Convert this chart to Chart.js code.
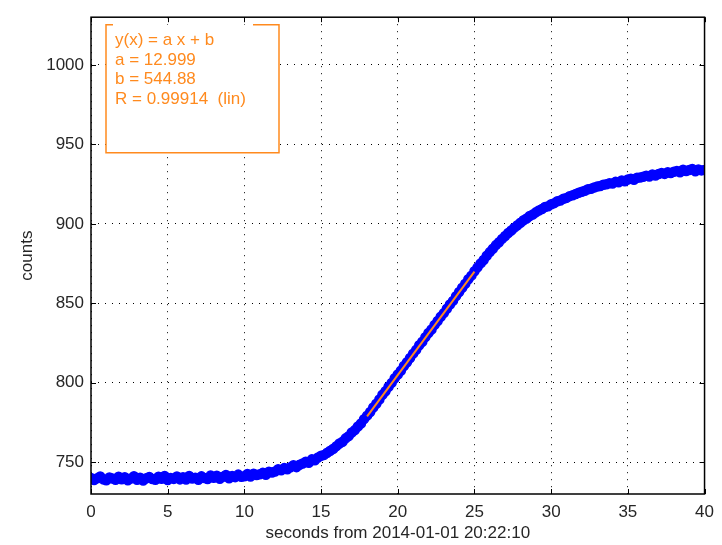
<!DOCTYPE html>
<html>
<head>
<meta charset="utf-8">
<script src="https://cdn.jsdelivr.net/npm/chart.js@4"></script>
<style>
  html, body { margin: 0; padding: 0; background: #fff; }
  #wrap { width: 722px; height: 545px; }
</style>
</head>
<body>
<div id="wrap"><canvas id="chart" width="722" height="545"></canvas></div>
<script>
// sampling grid: one reading every 0.2 s from t = 0
const t0 = 0;
const dt = 0.2;

// counts, ten samples (2 s) per row
const counts = [
    740.1, 738.8, 739.9, 741.0, 739.2, 738.6, 740.4, 739.7, 738.9, 740.8,
    739.3, 740.6, 738.7, 739.8, 741.2, 739.0, 740.2, 738.5, 739.9, 740.7,
    739.4, 738.9, 740.9, 739.6, 741.3, 738.8, 740.1, 739.5, 741.0, 739.2,
    740.5, 739.1, 741.4, 739.7, 740.3, 738.9, 741.1, 740.0, 739.4, 741.6,
    740.2, 741.5, 739.6, 740.9, 742.0, 739.9, 741.3, 740.6, 742.2, 740.8,
    741.2, 742.6, 741.0, 742.8, 741.9, 742.4, 743.3, 742.1, 744.0, 743.5,
    744.2, 745.6, 744.9, 746.3, 745.5, 746.8, 748.1, 746.9, 748.4, 749.2,
    750.3, 749.6, 751.8, 751.2, 753.0, 754.1, 754.6, 756.0, 757.2, 758.5,
    760.1, 761.8, 762.9, 765.0, 766.4, 768.7, 770.2, 772.5, 774.4, 777.1,
    779.3, 781.6, 784.4, 786.8, 789.5, 792.4, 794.6, 797.5, 799.9, 802.8,
    805.2, 807.6, 810.5, 812.9, 815.6, 818.3, 820.7, 823.6, 825.8, 828.7,
    831.3, 833.5, 836.4, 838.9, 841.5, 843.8, 846.6, 849.2, 851.5, 854.5,
    857.1, 859.8, 862.3, 865.1, 867.4, 870.2, 872.6, 875.1, 877.2, 879.9,
    882.2, 884.3, 886.6, 888.4, 890.5, 892.3, 894.2, 895.8, 897.6, 899.1,
    900.7, 902.2, 903.3, 904.9, 905.8, 907.2, 908.4, 909.3, 910.6, 911.1,
    912.3, 913.0, 914.2, 914.6, 915.8, 916.3, 917.4, 917.9, 918.8, 919.5,
    920.2, 920.8, 921.7, 922.0, 922.9, 923.4, 923.8, 924.6, 924.9, 925.6,
    925.3, 926.4, 926.1, 927.2, 926.8, 927.9, 928.3, 927.7, 929.0, 929.1,
    929.6, 930.2, 929.8, 931.0, 930.4, 931.3, 932.0, 931.4, 932.4, 931.9,
    932.8, 933.3, 932.4, 934.0, 933.2, 933.9, 934.5, 933.1, 934.2, 933.6,
    933.8
];

// linear fit, drawn over 18..25 s
const fitX = [18, 25];
const fitY = [778.9, 869.9];
const fitLabel = ['y(x) = a x + b', 'a = 12.999', 'b = 544.88', 'R = 0.99914  (lin)'];

const xTicks = [0, 5, 10, 15, 20, 25, 30, 35, 40];
const yTicks = [750, 800, 850, 900, 950, 1000];

const BLUE = '#0000ff';
const ORANGE = '#ff8a1e';
const TEXT = '#262626';

Chart.defaults.font.family = '"Liberation Sans", Arial, sans-serif';
Chart.defaults.font.size = 17;
Chart.defaults.color = TEXT;

// black frame round the plot, with short ticks pointing inwards on all four sides
const framePlugin = {
    id: 'frame',
    afterDraw(chart) {
        const { ctx, chartArea: a, scales } = chart;
        const len = 5;
        ctx.save();
        ctx.strokeStyle = '#000';
        ctx.lineWidth = 1;
        ctx.beginPath();
        xTicks.forEach(v => {
            const px = Math.round(scales.x.getPixelForValue(v)) + 0.5;
            ctx.moveTo(px, a.bottom); ctx.lineTo(px, a.bottom - len);
            ctx.moveTo(px, a.top); ctx.lineTo(px, a.top + len);
        });
        yTicks.forEach(v => {
            const py = Math.round(scales.y.getPixelForValue(v)) + 0.5;
            ctx.moveTo(a.left, py); ctx.lineTo(a.left + len, py);
            ctx.moveTo(a.right, py); ctx.lineTo(a.right - len, py);
        });
        ctx.stroke();
        ctx.lineWidth = 1.5;
        ctx.strokeRect(a.left, a.top, a.right - a.left, a.bottom - a.top);
        ctx.restore();
    }
};

// fit results box in the upper left corner, white inside so the grid stays behind it
const fitBoxPlugin = {
    id: 'fitBox',
    afterDatasetsDraw(chart) {
        const { ctx, chartArea: a } = chart;
        const x0 = a.left + 15, x1 = a.left + 188;
        const y0 = a.top + 7.5, y1 = a.top + 135.5;
        ctx.save();
        ctx.fillStyle = '#fff';
        ctx.fillRect(x0, y0, x1 - x0, y1 - y0);
        ctx.strokeStyle = ORANGE;
        ctx.lineWidth = 1.5;
        ctx.beginPath();
        ctx.moveTo(x0 + 7, y0); ctx.lineTo(x0, y0); ctx.lineTo(x0, y1);
        ctx.lineTo(x1, y1); ctx.lineTo(x1, y0); ctx.lineTo(x1 - 26, y0);
        ctx.stroke();
        ctx.fillStyle = ORANGE;
        ctx.font = '17px "Liberation Sans", Arial, sans-serif';
        ctx.textBaseline = 'middle';
        fitLabel.forEach((line, i) => {
            ctx.fillText(line, x0 + 9, a.top + 23 + i * 19.7);
        });
        ctx.restore();
    }
};

const points = counts.map((c, i) => ({ x: t0 + i * dt, y: c }));

new Chart(document.getElementById('chart'), {
    type: 'scatter',
    data: {
        datasets: [{
            type: 'line',
            label: 'fit',
            data: fitX.map((x, i) => ({ x: x, y: fitY[i] })),
            borderColor: ORANGE,
            borderWidth: 2,
            pointRadius: 0,
            fill: false
        }, {
            label: 'counts',
            data: points,
            backgroundColor: BLUE,
            borderColor: BLUE,
            borderWidth: 1.5,
            pointRadius: 4.5,
            pointHoverRadius: 4.5
        }]
    },
    options: {
        responsive: false,
        animation: false,
        devicePixelRatio: 1,
        layout: { padding: { top: 8, right: 16, left: 0, bottom: 0 } },
        plugins: {
            legend: { display: false },
            tooltip: { enabled: false }
        },
        scales: {
            x: {
                type: 'linear',
                min: 0,
                max: 40,
                afterBuildTicks: s => { s.ticks = xTicks.map(v => ({ value: v })); },
                afterFit: s => { s.height = 51; },
                ticks: { padding: 8, maxRotation: 0, color: TEXT, callback: v => String(v) },
                grid: { color: '#000', lineWidth: 1, drawTicks: false },
                border: { display: false, dash: [1, 6] },
                title: {
                    display: true,
                    text: 'seconds from 2014-01-01 20:22:10',
                    color: TEXT,
                    padding: { top: 0, bottom: 1 }
                }
            },
            y: {
                type: 'linear',
                min: 730,
                max: 1030,
                afterBuildTicks: s => { s.ticks = yTicks.map(v => ({ value: v })); },
                afterFit: s => { s.width = 91; },
                ticks: { padding: 7, color: TEXT, callback: v => String(v) },
                grid: { color: '#000', lineWidth: 1, drawTicks: false },
                border: { display: false, dash: [1, 6] },
                title: {
                    display: true,
                    text: 'counts',
                    color: TEXT,
                    padding: { top: 17, bottom: 0 }
                }
            }
        }
    },
    plugins: [framePlugin, fitBoxPlugin]
});
</script>
</body>
</html>
